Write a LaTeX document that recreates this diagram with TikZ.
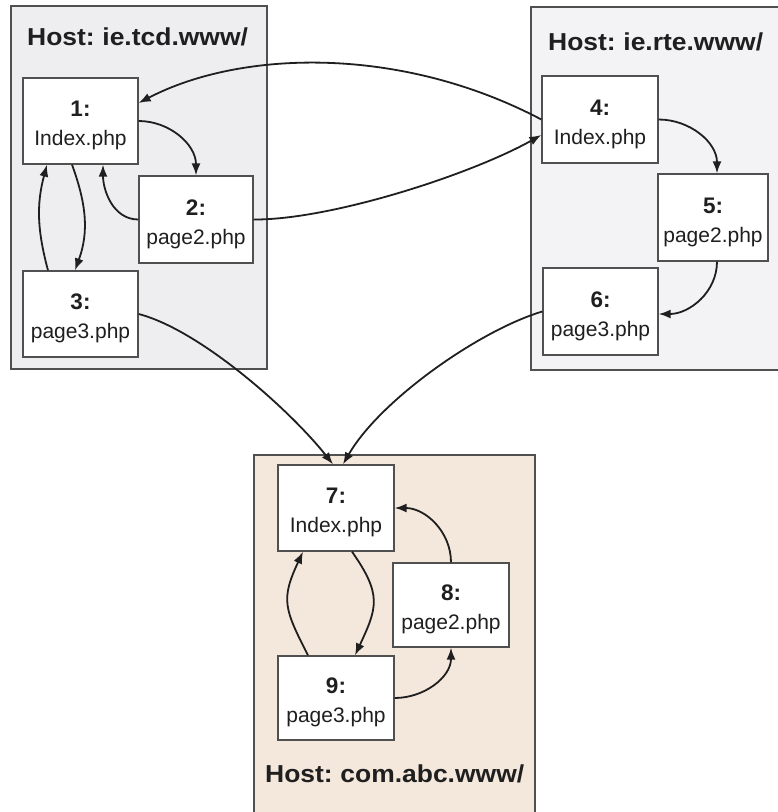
\documentclass[tikz,border=0pt]{standalone}
\usepackage{fontspec}
\setmainfont{Liberation Sans}
\newfontfamily\hostfont{Liberation Sans}[FakeStretch=1.08, WordSpace=0.7]
\usetikzlibrary{arrows.meta}
\definecolor{hostgrey}{HTML}{EEEDF0}
\definecolor{hostlight}{HTML}{F3F2F4}
\definecolor{hostpeach}{HTML}{F4E7DC}
\definecolor{edgegrey}{HTML}{505050}
\newcommand{\pagenum}[1]{{\bfseries\fontsize{22.5}{29}\selectfont #1}}
\begin{document}
\begin{tikzpicture}[x=1pt,y=1pt,
  host/.style={draw=edgegrey, line width=1.2pt},
  hosttitle/.style={anchor=base west, inner sep=0pt, text=black!88,
    font=\hostfont\bfseries\fontsize{24.5}{28}\selectfont},
  pagebox/.style={draw=edgegrey, fill=white, line width=1.3pt, inner sep=0pt,
    minimum width=115pt, minimum height=86pt},
  pagetext/.style={align=center, inner sep=0pt, text=black!88,
    font=\fontsize{21}{29}\selectfont},
  link/.style={draw=black!88, line width=1.8pt, -{Latex[length=12pt,width=9pt]}}]

\useasboundingbox (0,0) rectangle (778,-812);
\fill[white] (0,0) rectangle (778,-812);

% host areas
\filldraw[host, fill=hostgrey]  (11,-6)   rectangle (267,-369);
\filldraw[host, fill=hostlight] (531,-7)  rectangle (790,-370);
\filldraw[host, fill=hostpeach] (254,-455) rectangle (535,-830);

\node[hosttitle] (h1) at (27,-45)  {Host: ie.tcd.www/};
\node[hosttitle] (h2) at (548,-50) {Host: ie.rte.www/};
\node[hosttitle] (h3) at (265,-782) {Host: com.abc.www/};

% pages
\node[pagebox] (n1) at (80.5,-121)   {};
\node[pagebox, minimum width=114pt, minimum height=87pt] (n2) at (196,-219.5) {};
\node[pagebox] (n3) at (80.5,-314)   {};
\node[pagebox, minimum width=116pt, minimum height=87pt] (n4) at (600,-119.5) {};
\node[pagebox, minimum width=110pt, minimum height=87pt] (n5) at (713,-217.5) {};
\node[pagebox, minimum height=87pt] (n6) at (600.5,-311.5) {};
\node[pagebox, minimum width=116pt] (n7) at (336,-508) {};
\node[pagebox, minimum width=116pt, minimum height=84pt] (n8) at (451,-605) {};
\node[pagebox, minimum width=116pt, minimum height=84pt] (n9) at (336,-698) {};

\node[pagetext] (t1) at ([yshift=-4.5pt]n1.center) {\pagenum{1:}\\Index.php};
\node[pagetext] (t2) at ([yshift=-4.5pt]n2.center) {\pagenum{2:}\\page2.php};
\node[pagetext] (t3) at ([yshift=-4.5pt]n3.center) {\pagenum{3:}\\page3.php};
\node[pagetext] (t4) at ([yshift=-4.5pt]n4.center) {\pagenum{4:}\\Index.php};
\node[pagetext] (t5) at ([yshift=-4.5pt]n5.center) {\pagenum{5:}\\page2.php};
\node[pagetext] (t6) at ([yshift=-4.5pt]n6.center) {\pagenum{6:}\\page3.php};
\node[pagetext] (t7) at ([yshift=-4.5pt]n7.center) {\pagenum{7:}\\Index.php};
\node[pagetext] (t8) at ([yshift=-4.5pt]n8.center) {\pagenum{8:}\\page2.php};
\node[pagetext] (t9) at ([yshift=-4.5pt]n9.center) {\pagenum{9:}\\page3.php};

% links inside ie.tcd.www
\draw[link] (n1.east) to[out=0,in=90] (n2.north);
\draw[link] (n2.west) to[out=180,in=270] ([xshift=22.5pt]n1.south);
\draw[link] ([xshift=-8.5pt]n1.south) to[out=-70,in=70] ([xshift=-5.5pt]n3.north);
\draw[link] ([xshift=-32.5pt]n3.north) to[out=105,in=255] ([xshift=-33.5pt]n1.south);

% links between hosts
\draw[link] (n4.west) .. controls (400,-45) and (240,-50) .. ([yshift=18pt]n1.east);
\draw[link] (n2.east) .. controls (330,-220) and (470,-175) .. ([yshift=-15.5pt]n4.west);
\draw[link] (n3.east) .. controls (200,-330) and (290,-410) .. ([xshift=-3pt]n7.north);
\draw[link] (n6.west) .. controls (480,-330) and (380,-400) .. ([xshift=7pt]n7.north);

% links inside ie.rte.www
\draw[link] (n4.east) to[out=0,in=90] ([xshift=4pt]n5.north);
\draw[link] ([xshift=4pt]n5.south) to[out=-90,in=0] ([yshift=-2.5pt]n6.east);

% links inside com.abc.www
\draw[link] ([xshift=16pt]n7.south) to[out=-55,in=65,looseness=1.3] ([xshift=19pt]n9.north);
\draw[link] ([xshift=-28pt]n9.north) to[out=117,in=245,looseness=1.3] ([xshift=-33pt]n7.south);
\draw[link] (n8.north) to[out=90,in=0] (n7.east);
\draw[link] (n9.east) to[out=0,in=270] (n8.south);
\end{tikzpicture}
\end{document}
